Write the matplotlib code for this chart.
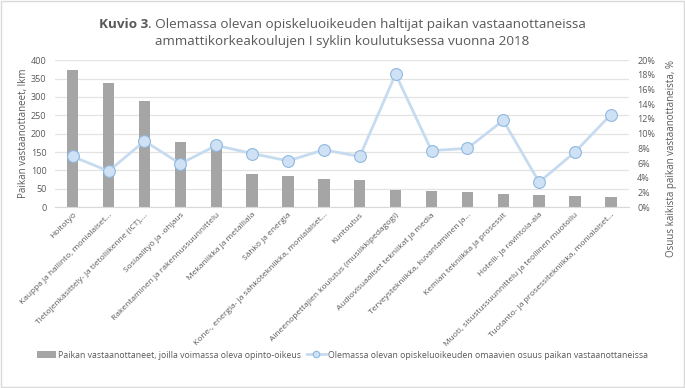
import matplotlib.pyplot as plt
import numpy as np
from matplotlib.patches import Rectangle

plt.rcParams['font.family'] = ['Open Sans', 'DejaVu Sans']

categories = [
    "Hoitotyö",
    "Kauppa ja hallinto, monialaiset...",
    "Tietojenkäsittely- ja tietoliikenne (ICT),...",
    "Sosiaalityö ja -ohjaus",
    "Rakentaminen ja rakennussuunnittelu",
    "Mekaniikka ja metalliala",
    "Sähkö ja energia",
    "Kone-, energia- ja sähkötekniikka, monialaiset...",
    "Kuntoutus",
    "Aineenopettajien koulutus (musiikkipedagogi)",
    "Audiovisuaaliset tekniikat ja media",
    "Terveystekniikka, kuvantaminen ja...",
    "Kemian tekniikka ja prosessit",
    "Hotelli- ja ravintola-ala",
    "Muoti, sisustussuunnittelu ja teollinen muotoilu",
    "Tuotanto- ja prosessitekniikka, monialaiset...",
]
recipients = [373, 337, 288, 178, 165, 90, 85, 76, 73, 48, 44, 41, 36, 34, 31, 29]
share_pct = [6.9, 4.9, 9.0, 5.9, 8.4, 7.3, 6.3, 7.8, 6.9, 18.1, 7.7, 8.0, 11.8, 3.4, 7.5, 12.6]

left_ticks = [0, 50, 100, 150, 200, 250, 300, 350, 400]
right_ticks = [0, 2, 4, 6, 8, 10, 12, 14, 16, 18, 20]

text_col = "#595959"
bar_col = "#a5a5a5"
line_col = "#c6dbef"

fig = plt.figure(figsize=(6.85, 3.88), dpi=100)
fig.patches.append(Rectangle((0.002, 0.003), 0.996, 0.994, transform=fig.transFigure,
                             fill=False, edgecolor="#d9d9d9", linewidth=1))

ax = fig.add_axes([0.080, 0.466, 0.838, 0.379])
x = np.arange(len(categories))
bars = ax.bar(x, recipients, width=0.32, color=bar_col, zorder=2)
ax.set_ylim(0, 400)
ax.set_xlim(-0.5, len(categories) - 0.5)
ax.set_yticks(left_ticks)
ax.yaxis.grid(True, color="#e3e3e3", linewidth=0.9, zorder=0)
ax.set_axisbelow(True)
for s in ["top", "right", "left"]:
    ax.spines[s].set_visible(False)
ax.spines["bottom"].set_color("#d9d9d9")
ax.tick_params(axis="y", length=0, labelsize=6.5, labelcolor=text_col, pad=6)
ax.tick_params(axis="x", length=0, labelsize=6, labelcolor=text_col, pad=3)
ax.set_xticks(x)
ax.set_xticklabels(categories, rotation=45, ha="right", rotation_mode="anchor")
ax.set_ylabel("Paikan vastaanottaneet, lkm", fontsize=7, color=text_col)
ax.yaxis.set_label_coords(-0.045, 0.5)

ax2 = ax.twinx()
line, = ax2.plot(x, share_pct, color=line_col, linewidth=2, marker="o", markersize=8.5,
                 markerfacecolor="#cfe2f5", markeredgecolor="#8fb8e0", markeredgewidth=0.8,
                 zorder=3)
ax2.set_ylim(0, 20)
ax2.set_yticks(right_ticks)
ax2.set_yticklabels([f"{t}%" for t in right_ticks])
for s in ax2.spines.values():
    s.set_visible(False)
ax2.tick_params(axis="y", length=0, labelsize=6.5, labelcolor=text_col, pad=6)
ax2.set_ylabel("Osuus kaikista paikan vastaanottaneista, %", fontsize=7, color=text_col)
ax2.yaxis.set_label_coords(1.065, 0.33)

# title with bold prefix
fig.canvas.draw()
r = fig.canvas.get_renderer()
tsize = 9.7
t_rest = " Olemassa olevan opiskeluoikeuden haltijat paikan vastaanottaneissa"
bold = fig.text(0, 0.937, "Kuvio 3", fontsize=tsize, fontweight="bold", color=text_col, va="center")
rest = fig.text(0, 0.937, "." + t_rest, fontsize=tsize, color=text_col, va="center")
wb = bold.get_window_extent(r).width
wr = rest.get_window_extent(r).width
W = fig.bbox.width
x0 = (W - wb - wr) / 2
bold.set_x(x0 / W)
rest.set_x((x0 + wb) / W)
fig.text(0.5, 0.893, "ammattikorkeakoulujen I syklin koulutuksessa vuonna 2018", fontsize=tsize,
         color=text_col, ha="center", va="center")

fig.legend([bars, line],
           ["Paikan vastaanottaneet, joilla voimassa oleva opinto-oikeus",
            "Olemassa olevan opiskeluoikeuden omaavien osuus paikan vastaanottaneissa"],
           loc="center", bbox_to_anchor=(0.5, 0.085), ncol=2, frameon=False,
           fontsize=6.3, labelcolor=text_col, handlelength=2.2, columnspacing=0.6,
           handletextpad=0.3, markerscale=0.55)

fig.savefig("out.png", dpi=100)
